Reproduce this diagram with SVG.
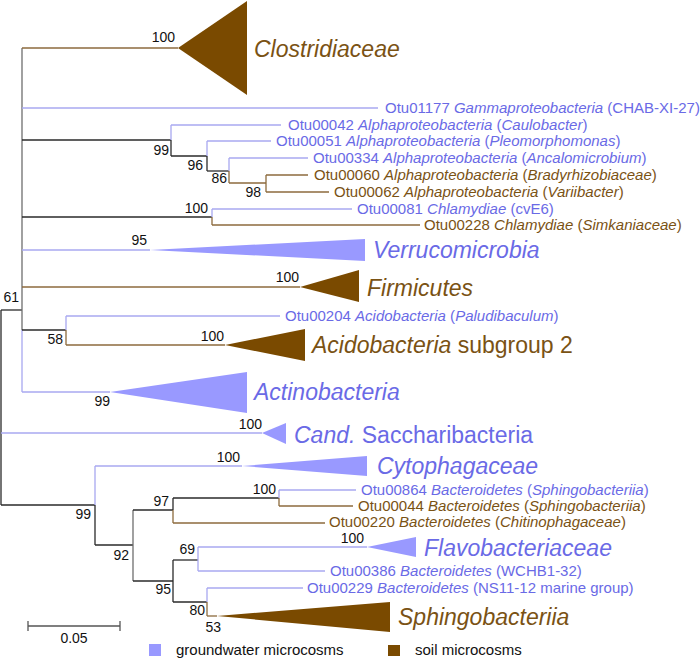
<svg xmlns="http://www.w3.org/2000/svg" width="700" height="658" viewBox="0 0 700 658">
<style>
text{font-family:"Liberation Sans",Arial,sans-serif}
.bs{font-size:14px;fill:#111;text-anchor:end}
.lf{font-size:15px}
.big{font-size:23px;font-style:italic}
.b{fill:#6a6ae6}
.s{fill:#7a5214}
.i{font-style:italic}
.n{font-style:normal}
.tb{fill:#9999ff}
.ts{fill:#7a4a00}
#connectors line{stroke-width:1.3;fill:none}
.k{stroke:#2a2a2a}
.g{stroke:#6e6e6e}
.lb{stroke:#a8a8f0}
.ls{stroke:#8c6a3c}
</style>
<rect width="700" height="658" fill="#fff"/>
<g id="connectors">
<line class="k" x1="1" y1="310" x2="1" y2="505"/>
<line class="k" x1="1" y1="310" x2="22" y2="310"/>
<line class="lb" x1="1" y1="433" x2="262" y2="433"/>
<line class="k" x1="1" y1="505" x2="95" y2="505"/>
<line class="g" x1="22" y1="48" x2="22" y2="330"/>
<line class="lb" x1="22" y1="330" x2="22" y2="392"/>
<line class="ls" x1="22" y1="48" x2="178" y2="48"/>
<line class="lb" x1="22" y1="108" x2="378" y2="108"/>
<line class="k" x1="22" y1="140" x2="171" y2="140"/>
<line class="k" x1="22" y1="217" x2="212" y2="217"/>
<line class="lb" x1="22" y1="250" x2="150" y2="250"/>
<line class="ls" x1="22" y1="287" x2="300" y2="287"/>
<line class="k" x1="22" y1="330" x2="66" y2="330"/>
<line class="lb" x1="22" y1="392" x2="110" y2="392"/>
<line class="lb" x1="171" y1="125" x2="171" y2="140"/>
<line class="k" x1="171" y1="140" x2="171" y2="156"/>
<line class="lb" x1="171" y1="125" x2="281" y2="125"/>
<line class="k" x1="171" y1="156" x2="207" y2="156"/>
<line class="lb" x1="207" y1="141" x2="207" y2="156"/>
<line class="k" x1="207" y1="156" x2="207" y2="171"/>
<line class="lb" x1="207" y1="141" x2="271" y2="141"/>
<line class="k" x1="207" y1="171" x2="229" y2="171"/>
<line class="lb" x1="229" y1="158" x2="229" y2="171"/>
<line class="ls" x1="229" y1="171" x2="229" y2="183"/>
<line class="lb" x1="229" y1="158" x2="308" y2="158"/>
<line class="ls" x1="229" y1="183" x2="266" y2="183"/>
<line class="ls" x1="266" y1="175" x2="266" y2="192"/>
<line class="ls" x1="266" y1="175" x2="308" y2="175"/>
<line class="ls" x1="266" y1="192" x2="329" y2="192"/>
<line class="lb" x1="212" y1="209" x2="212" y2="217"/>
<line class="ls" x1="212" y1="217" x2="212" y2="225"/>
<line class="lb" x1="212" y1="209" x2="352" y2="209"/>
<line class="ls" x1="212" y1="225" x2="420" y2="225"/>
<line class="lb" x1="66" y1="316" x2="66" y2="330"/>
<line class="ls" x1="66" y1="330" x2="66" y2="345"/>
<line class="lb" x1="66" y1="316" x2="280" y2="316"/>
<line class="ls" x1="66" y1="345" x2="225" y2="345"/>
<line class="lb" x1="95" y1="466" x2="95" y2="505"/>
<line class="k" x1="95" y1="505" x2="95" y2="545"/>
<line class="lb" x1="95" y1="466" x2="242" y2="466"/>
<line class="k" x1="95" y1="545" x2="133" y2="545"/>
<line class="g" x1="133" y1="510" x2="133" y2="581"/>
<line class="k" x1="133" y1="510" x2="173" y2="510"/>
<line class="k" x1="133" y1="581" x2="173" y2="581"/>
<line class="k" x1="173" y1="498" x2="173" y2="510"/>
<line class="ls" x1="173" y1="510" x2="173" y2="523"/>
<line class="k" x1="173" y1="498" x2="279" y2="498"/>
<line class="ls" x1="173" y1="523" x2="325" y2="523"/>
<line class="lb" x1="279" y1="490" x2="279" y2="498"/>
<line class="ls" x1="279" y1="498" x2="279" y2="506"/>
<line class="lb" x1="279" y1="490" x2="356" y2="490"/>
<line class="ls" x1="279" y1="506" x2="353" y2="506"/>
<line class="k" x1="173" y1="560" x2="173" y2="602"/>
<line class="k" x1="173" y1="560" x2="198" y2="560"/>
<line class="k" x1="173" y1="602" x2="207" y2="602"/>
<line class="lb" x1="198" y1="547" x2="198" y2="571"/>
<line class="lb" x1="198" y1="547" x2="367" y2="547"/>
<line class="lb" x1="198" y1="571" x2="325" y2="571"/>
<line class="lb" x1="207" y1="588" x2="207" y2="602"/>
<line class="ls" x1="207" y1="602" x2="207" y2="616"/>
<line class="lb" x1="207" y1="588" x2="303" y2="588"/>
<line class="ls" x1="207" y1="616" x2="217" y2="616"/>
</g>

<g id="bootstrap">
<text class="bs" x="175" y="42">100</text>
<text class="bs" x="169" y="155">99</text>
<text class="bs" x="203" y="170">96</text>
<text class="bs" x="227" y="183">86</text>
<text class="bs" x="261" y="197">98</text>
<text class="bs" x="208" y="213">100</text>
<text class="bs" x="147" y="245">95</text>
<text class="bs" x="299" y="282">100</text>
<text class="bs" x="19" y="302">61</text>
<text class="bs" x="63" y="344">58</text>
<text class="bs" x="224" y="341">100</text>
<text class="bs" x="110" y="406">99</text>
<text class="bs" x="262" y="429">100</text>
<text class="bs" x="240" y="462">100</text>
<text class="bs" x="276" y="494">100</text>
<text class="bs" x="91" y="519">99</text>
<text class="bs" x="169" y="506">97</text>
<text class="bs" x="129" y="560">92</text>
<text class="bs" x="195" y="554">69</text>
<text class="bs" x="171" y="594">95</text>
<text class="bs" x="205" y="615">80</text>
<text class="bs" x="221" y="632">53</text>
<text class="bs" x="364" y="543">100</text>
</g>

<g id="clostridiaceae">
<polygon class="ts" points="178,48 247,1 247,95"/>
<text class="big s" x="254" y="57">Clostridiaceae</text>
</g>
<g id="otu01177"><text class="lf b" x="385" y="113">Otu01177 <tspan class="i">Gammaproteobacteria</tspan> (CHAB-XI-27)</text></g>
<g id="otu00042"><text class="lf b" x="288" y="130">Otu00042 <tspan class="i">Alphaproteobacteria</tspan> (<tspan class="i">Caulobacter</tspan>)</text></g>
<g id="otu00051"><text class="lf b" x="276" y="146">Otu00051 <tspan class="i">Alphaproteobacteria</tspan> (<tspan class="i">Pleomorphomonas</tspan>)</text></g>
<g id="otu00334"><text class="lf b" x="313" y="163">Otu00334 <tspan class="i">Alphaproteobacteria</tspan> (<tspan class="i">Ancalomicrobium</tspan>)</text></g>
<g id="otu00060"><text class="lf s" x="314" y="180">Otu00060 <tspan class="i">Alphaproteobacteria</tspan> (<tspan class="i">Bradyrhizobiaceae</tspan>)</text></g>
<g id="otu00062"><text class="lf s" x="334" y="197">Otu00062 <tspan class="i">Alphaproteobacteria</tspan> (<tspan class="i">Variibacter</tspan>)</text></g>
<g id="otu00081"><text class="lf b" x="357" y="214">Otu00081 <tspan class="i">Chlamydiae</tspan> (cvE6)</text></g>
<g id="otu00228"><text class="lf s" x="424" y="230">Otu00228 <tspan class="i">Chlamydiae</tspan> (<tspan class="i">Simkaniaceae</tspan>)</text></g>
<g id="verrucomicrobia">
<polygon class="tb" points="150,250 365,239 365,261"/>
<text class="big b" x="373" y="258">Verrucomicrobia</text>
</g>
<g id="firmicutes">
<polygon class="ts" points="300,287 359,270 359,302"/>
<text class="big s" x="367" y="296">Firmicutes</text>
</g>
<g id="otu00204"><text class="lf b" x="285" y="321">Otu00204 <tspan class="i">Acidobacteria</tspan> (<tspan class="i">Paludibaculum</tspan>)</text></g>
<g id="acidobacteria">
<polygon class="ts" points="225,345 305,329 305,361"/>
<text class="big s" x="312" y="353">Acidobacteria<tspan class="n"> subgroup 2</tspan></text>
</g>
<g id="actinobacteria">
<polygon class="tb" points="110,392 247,372 247,413"/>
<text class="big b" x="254" y="400">Actinobacteria</text>
</g>
<g id="saccharibacteria">
<polygon class="tb" points="262,433 286,423 286,444"/>
<text class="big b" x="294" y="443">Cand.<tspan class="n"> Saccharibacteria</tspan></text>
</g>
<g id="cytophagaceae">
<polygon class="tb" points="242,466 367,456 367,476"/>
<text class="big b" x="377" y="474">Cytophagaceae</text>
</g>
<g id="otu00864"><text class="lf b" x="361" y="495">Otu00864 <tspan class="i">Bacteroidetes</tspan> (<tspan class="i">Sphingobacteriia</tspan>)</text></g>
<g id="otu00044"><text class="lf s" x="358" y="511">Otu00044 <tspan class="i">Bacteroidetes</tspan> (<tspan class="i">Sphingobacteriia</tspan>)</text></g>
<g id="otu00220"><text class="lf s" x="329" y="527">Otu00220 <tspan class="i">Bacteroidetes</tspan> (<tspan class="i">Chitinophagaceae</tspan>)</text></g>
<g id="flavobacteriaceae">
<polygon class="tb" points="367,547 416,537 416,557"/>
<text class="big b" x="424" y="556">Flavobacteriaceae</text>
</g>
<g id="otu00386"><text class="lf b" x="330" y="576">Otu00386 <tspan class="i">Bacteroidetes</tspan> (WCHB1-32)</text></g>
<g id="otu00229"><text class="lf b" x="307" y="593">Otu00229 <tspan class="i">Bacteroidetes</tspan> (NS11-12 marine group)</text></g>
<g id="sphingobacteriia">
<polygon class="ts" points="217,616 390,602 390,632"/>
<text class="big s" x="398" y="625">Sphingobacteriia</text>
</g>

<g id="scalebar">
<line x1="28" y1="626" x2="120" y2="626" stroke="#555" stroke-width="1.3"/>
<line x1="28" y1="621" x2="28" y2="631" stroke="#555" stroke-width="1.3"/>
<line x1="120" y1="621" x2="120" y2="631" stroke="#555" stroke-width="1.3"/>
<text x="74" y="643" font-size="14" text-anchor="middle" fill="#111">0.05</text>
</g>
<g id="legend">
<rect class="tb" x="149" y="644" width="12" height="12"/>
<text x="176" y="655" font-size="15" fill="#111">groundwater microcosms</text>
<rect class="ts" x="388" y="645" width="12" height="11"/>
<text x="415" y="655" font-size="15" fill="#111">soil microcosms</text>
</g>
</svg>
